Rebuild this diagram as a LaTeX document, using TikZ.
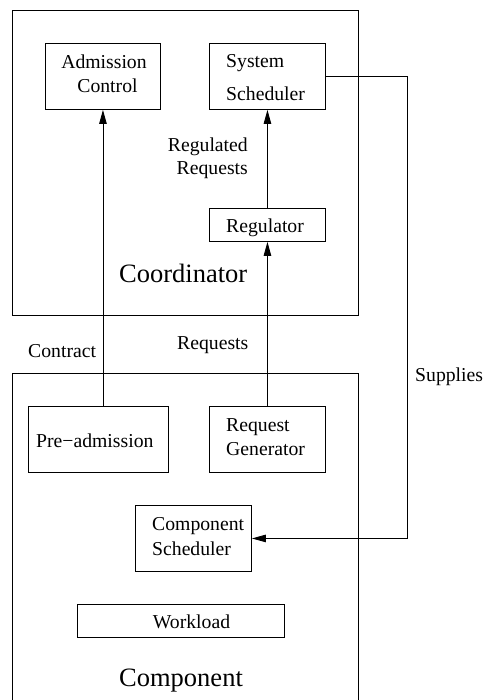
\documentclass[tikz,border=0pt]{standalone}
\usepackage{fontspec}
\setmainfont{Liberation Serif}
\usetikzlibrary{arrows.meta}
\tikzset{
  box/.style={draw, line width=0.9pt, anchor=north west, inner sep=0pt},
  txt/.style={inner sep=0pt, font=\fontsize{19.7}{23}\selectfont},
  big/.style={inner sep=0pt, font=\fontsize{26.5}{30}\selectfont},
  arr/.style={line width=0.9pt, -{Triangle[length=14pt,width=7.5pt]}},
  wire/.style={line width=0.9pt}
}
\begin{document}
\begin{tikzpicture}[x=1pt,y=-1pt]
\useasboundingbox (0,0) rectangle (487,700);
\clip (0,0) rectangle (487,700);

% outer containers
\node[box, minimum width=346, minimum height=305] (coord) at (12,10) {};
\node[box, minimum width=346, minimum height=340] (comp) at (12,373) {};

% boxes inside the coordinator
\node[box, minimum width=115, minimum height=66] (adm) at (45,43) {};
\node[box, minimum width=116, minimum height=66] (sys) at (209,43) {};
\node[box, minimum width=116, minimum height=33] (reg) at (209,208) {};

% boxes inside the component
\node[box, minimum width=140, minimum height=66] (pre) at (28,406) {};
\node[box, minimum width=116, minimum height=66] (gen) at (209,406) {};
\node[box, minimum width=116, minimum height=66] (cs) at (135,505) {};
\node[box, minimum width=207, minimum height=33] (wl) at (77,604) {};

% box texts
\node[txt, anchor=base] (admA) at (104,68.3) {Admission};
\node[txt, anchor=base] (admB) at (107.5,92.7) {Control};
\node[txt, anchor=base west] (sysA) at (226,68) {System};
\node[txt, anchor=base west] (sysB) at (226,100.7) {Scheduler};
\node[txt, anchor=base west] (regT) at (226,233) {Regulator};
\node[txt, anchor=base west] (preT) at (36,447.7) {Pre−admission};
\node[txt, anchor=base west] (genA) at (226,431) {Request};
\node[txt, anchor=base west] (genB) at (226,455.7) {Generator};
\node[txt, anchor=base west] (csA) at (152,530.7) {Component};
\node[txt, anchor=base west] (csB) at (152,555) {Scheduler};
\node[txt, anchor=base west] (wlT) at (152.7,628.3) {Workload};

% container titles
\node[big, anchor=base west] (coordT) at (119,282.7) {Coordinator};
\node[big, anchor=base west] (compT) at (119,686.7) {Component};

% connector labels
\node[txt, anchor=base east] (rrA) at (248,151.7) {Regulated};
\node[txt, anchor=base east] (rrB) at (248,175) {Requests};
\node[txt, anchor=base west] (contract) at (28,357.3) {Contract};
\node[txt, anchor=base west] (requests) at (177,349) {Requests};
\node[txt, anchor=base west] (supplies) at (415,381.7) {Supplies};

% connectors
\draw[arr] (pre.north -| adm.south) -- (adm.south);
\draw[arr] (gen.north) -- (reg.south);
\draw[arr] (reg.north) -- (sys.south);
\coordinate (sup) at (407,0);
\draw[arr] (sys.east) -- (sys.east -| sup) -- (cs.east -| sup) -- (cs.east);
\end{tikzpicture}
\end{document}
